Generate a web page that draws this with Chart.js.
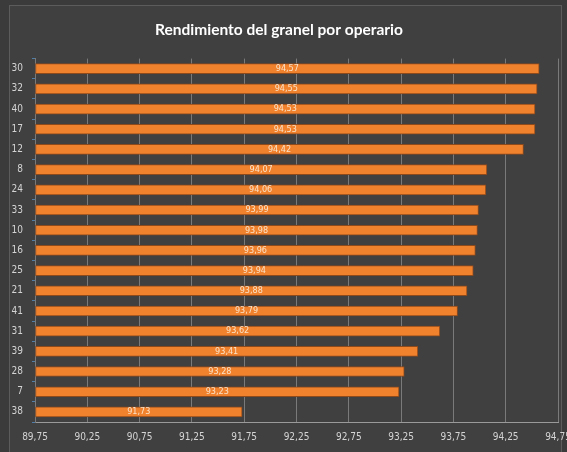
<!DOCTYPE html>
<html>
<head>
<meta charset="utf-8">
<script src="https://cdn.jsdelivr.net/npm/chart.js@4/dist/chart.umd.min.js"></script>
<style>
  html, body { margin: 0; padding: 0; background: #3b3b3b; }
  #wrap { width: 567px; height: 452px; position: relative; }
</style>
</head>
<body>
<div id="wrap"><canvas id="c" width="567" height="452"></canvas></div>
<script>
// Operarios (eje de categorías) y rendimiento del granel (%)
const operarios = ['30', '32', '40', '17', '12', '8', '24', '33', '10', '16', '25', '21', '41', '31', '39', '28', '7', '38'];
const rendimiento = [94.57, 94.55, 94.53, 94.53, 94.42, 94.07, 94.06, 93.99, 93.98, 93.96, 93.94, 93.88, 93.79, 93.62, 93.41, 93.28, 93.23, 91.73];
const ejeMin = 89.75;
const ejeMax = 94.75;
const ejePaso = 0.5;

const fmt = v => v.toFixed(2).replace('.', ',');

// Fondo y marco del panel
const panelPlugin = {
  id: 'panel',
  beforeDraw(chart) {
    const ctx = chart.ctx;
    ctx.save();
    ctx.fillStyle = '#3b3b3b';
    ctx.fillRect(0, 0, chart.width, chart.height);
    ctx.fillStyle = '#404040';
    ctx.fillRect(10, 5, 552, 460);
    ctx.strokeStyle = '#5c5c5c';
    ctx.lineWidth = 1;
    ctx.strokeRect(9.5, 5.5, 552, 460);
    ctx.restore();
  }
};

// Etiquetas de valor centradas sobre cada barra
const valorPlugin = {
  id: 'valores',
  afterDatasetsDraw(chart) {
    const ctx = chart.ctx;
    const meta = chart.getDatasetMeta(0);
    ctx.save();
    ctx.font = '9px "Liberation Sans Narrow", "DejaVu Sans Condensed", "Liberation Sans", sans-serif';
    ctx.fillStyle = '#fbe3c8';
    ctx.textAlign = 'center';
    ctx.textBaseline = 'middle';
    meta.data.forEach((bar, i) => {
      const p = bar.getProps(['x', 'y', 'base'], true);
      ctx.fillText(fmt(rendimiento[i]), (p.x + p.base) / 2, p.y);
    });
    ctx.restore();
  }
};

new Chart(document.getElementById('c'), {
  type: 'bar',
  data: {
    labels: operarios,
    datasets: [{
      data: rendimiento,
      backgroundColor: '#f0812d',
      borderColor: '#8f4a1c',
      borderWidth: 1,
      borderSkipped: false,
      barThickness: 10,
      base: ejeMin
    }]
  },
  options: {
    indexAxis: 'y',
    responsive: false,
    animation: false,
    layout: { padding: { left: 0, right: 9, top: 0, bottom: 0 } },
    plugins: {
      legend: { display: false },
      tooltip: { enabled: false },
      title: {
        display: true,
        text: 'Rendimiento del granel por operario',
        color: '#ffffff',
        font: { family: 'Lato, "Open Sans", sans-serif', size: 15.5, weight: 'bold' },
        padding: { top: 21, bottom: 19 }
      }
    },
    scales: {
      x: {
        type: 'linear',
        min: ejeMin,
        max: ejeMax,
        afterBuildTicks(scale) {
          const t = [];
          for (let v = ejeMin; v <= ejeMax + 1e-9; v += ejePaso) t.push({ value: +v.toFixed(2) });
          scale.ticks = t;
        },
        afterFit(scale) { scale.paddingLeft = 0; scale.paddingRight = 0; },
        ticks: {
          color: '#d4d4d4',
          font: { family: '"Liberation Sans Narrow", "DejaVu Sans Condensed", "Liberation Sans", sans-serif', size: 10 },
          maxRotation: 0,
          autoSkip: false,
          padding: 9,
          callback: v => fmt(v)
        },
        grid: { color: '#7a7a7a', lineWidth: 1, drawTicks: false },
        border: { color: '#9a9a9a', width: 1 }
      },
      y: {
        afterFit(scale) { scale.width = 35; },
        ticks: {
          color: '#d4d4d4',
          font: { family: '"Liberation Sans Narrow", "DejaVu Sans Condensed", "Liberation Sans", sans-serif', size: 10 },
          padding: 9
        },
        grid: { drawOnChartArea: false, color: '#4f7fa8', tickLength: 3, offset: true },
        border: { color: '#7a7a7a', width: 1 }
      }
    }
  },
  plugins: [panelPlugin, valorPlugin]
});
</script>
</body>
</html>
